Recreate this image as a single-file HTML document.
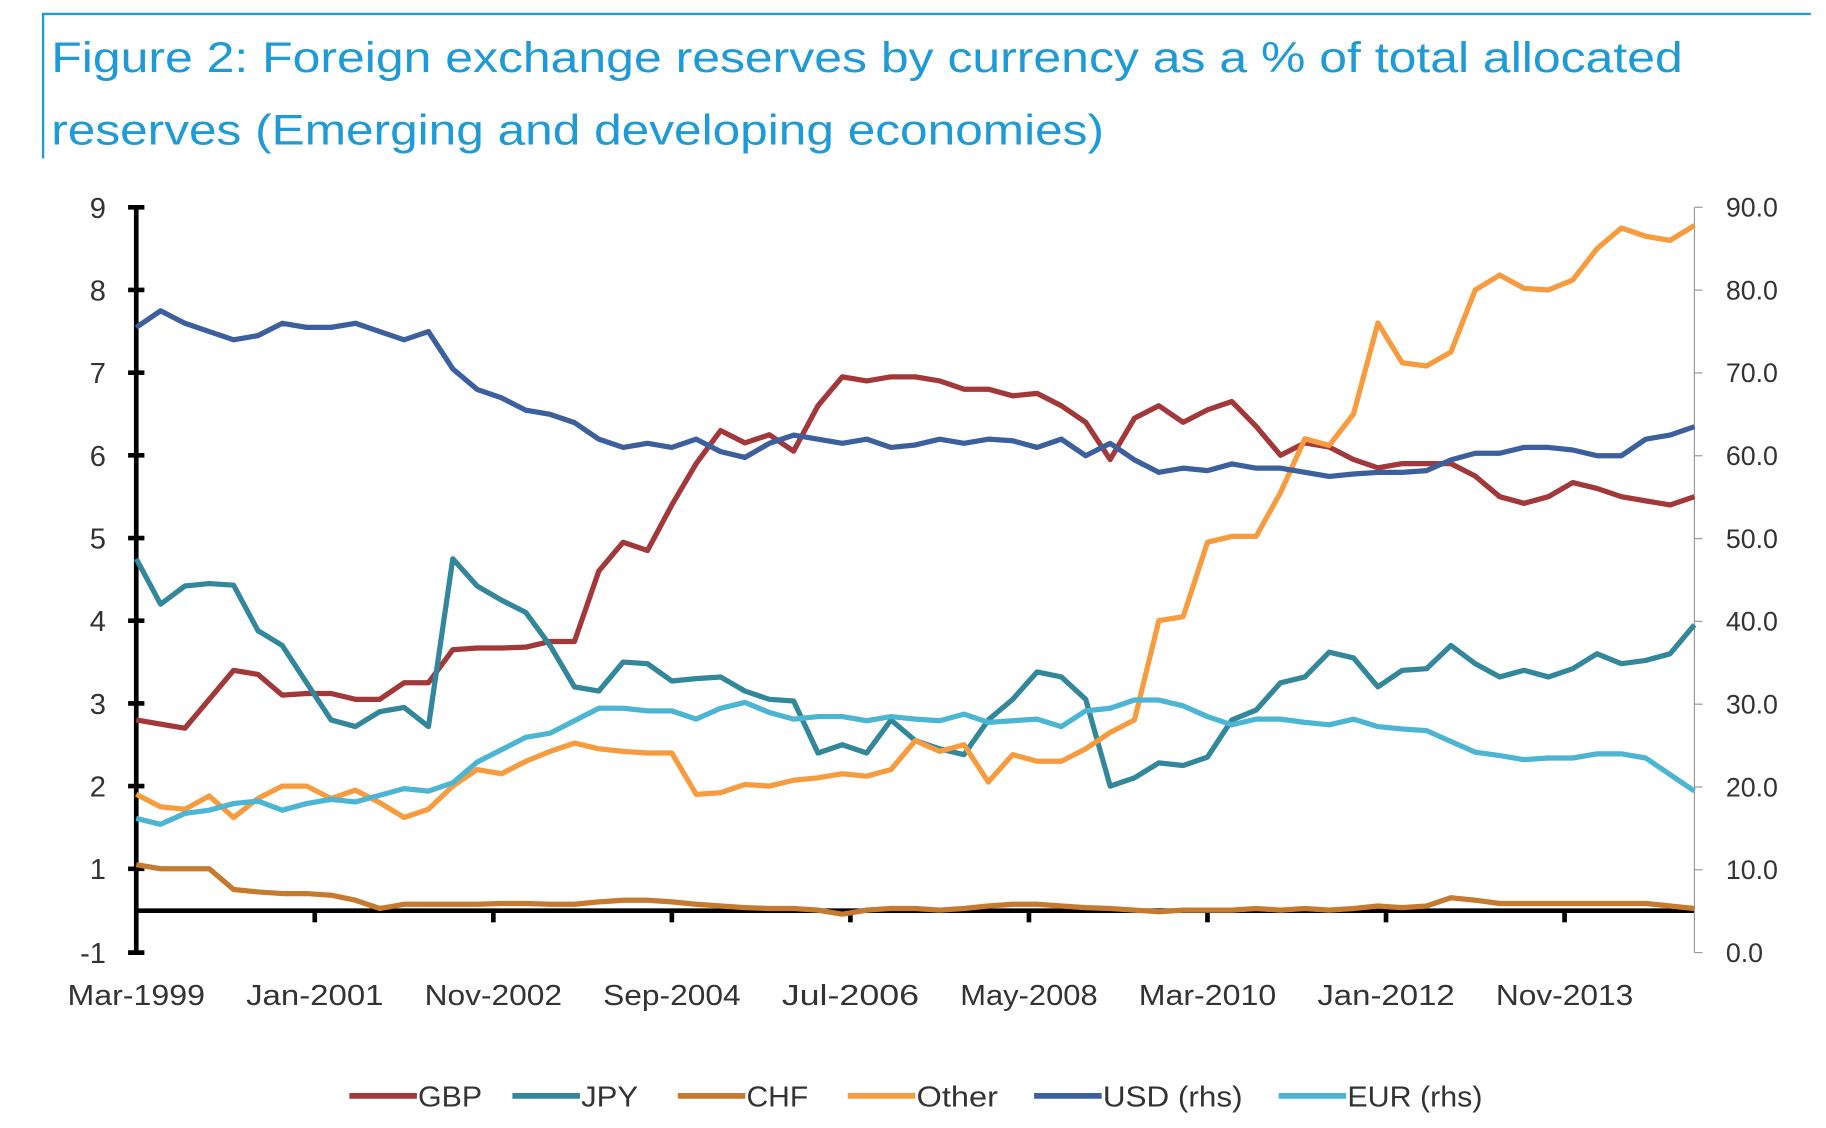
<!DOCTYPE html>
<html><head><meta charset="utf-8"><style>
html,body{margin:0;padding:0;background:#fff;}
svg{display:block;font-family:"Liberation Sans",sans-serif;}
</style></head><body>
<svg id="chart" width="1826" height="1128" viewBox="0 0 1568 968.6" preserveAspectRatio="none" xmlns="http://www.w3.org/2000/svg">
<line x1="36" y1="12" x2="1555" y2="12" stroke="#1e9ad6" stroke-width="2"/>
<line x1="37" y1="12" x2="37" y2="136" stroke="#1e9ad6" stroke-width="2"/>
<text x="44" y="62" font-size="37" fill="#1e9ad6" textLength="1401" lengthAdjust="spacingAndGlyphs">Figure 2: Foreign exchange reserves by currency as a % of total allocated</text>
<text x="44" y="124" font-size="37" fill="#1e9ad6" textLength="904" lengthAdjust="spacingAndGlyphs">reserves (Emerging and developing economies)</text>
<g id="axes"></g>
<g id="series"></g>
<g id="legend"></g>
</svg>
<script>
const NS="http://www.w3.org/2000/svg";
const xLabels=["Mar-1999","Jan-2001","Nov-2002","Sep-2004","Jul-2006","May-2008","Mar-2010","Jan-2012","Nov-2013"];
const leftTicks=[1,2,3,4,5,6,7,8,9];
const rightTicks=["0.0","10.0","20.0","30.0","40.0","50.0","60.0","70.0","80.0","90.0"];
const gbp=[2.8,2.75,2.7,3.05,3.4,3.35,3.1,3.12,3.12,3.05,3.05,3.25,3.25,3.65,3.67,3.67,3.68,3.75,3.75,4.6,4.95,4.85,5.4,5.9,6.3,6.15,6.25,6.05,6.6,6.95,6.9,6.95,6.95,6.9,6.8,6.8,6.72,6.75,6.6,6.4,5.95,6.45,6.6,6.4,6.55,6.65,6.35,6.0,6.15,6.1,5.95,5.85,5.9,5.9,5.9,5.75,5.5,5.42,5.5,5.67,5.6,5.5,5.45,5.4,5.5];
const jpy=[4.75,4.2,4.42,4.45,4.43,3.88,3.7,3.25,2.8,2.72,2.9,2.95,2.72,4.75,4.42,4.25,4.1,3.7,3.2,3.15,3.5,3.48,3.27,3.3,3.32,3.15,3.05,3.03,2.4,2.5,2.4,2.8,2.55,2.45,2.38,2.8,3.05,3.38,3.32,3.05,2.0,2.1,2.28,2.25,2.35,2.8,2.92,3.25,3.32,3.62,3.55,3.2,3.4,3.42,3.7,3.48,3.32,3.4,3.32,3.42,3.6,3.48,3.52,3.6,3.95];
const chf=[1.05,1.0,1.0,1.0,0.75,0.72,0.7,0.7,0.68,0.62,0.52,0.57,0.57,0.57,0.57,0.58,0.58,0.57,0.57,0.6,0.62,0.62,0.6,0.57,0.55,0.53,0.52,0.52,0.5,0.45,0.5,0.52,0.52,0.5,0.52,0.55,0.57,0.57,0.55,0.53,0.52,0.5,0.48,0.5,0.5,0.5,0.52,0.5,0.52,0.5,0.52,0.55,0.53,0.55,0.65,0.62,0.58,0.58,0.58,0.58,0.58,0.58,0.58,0.55,0.52];
const other=[1.9,1.75,1.72,1.88,1.62,1.85,2.0,2.0,1.85,1.95,1.8,1.62,1.72,2.0,2.2,2.15,2.3,2.42,2.52,2.45,2.42,2.4,2.4,1.9,1.92,2.02,2.0,2.07,2.1,2.15,2.12,2.2,2.55,2.42,2.5,2.05,2.38,2.3,2.3,2.45,2.65,2.8,4.0,4.05,4.95,5.02,5.02,5.55,6.2,6.12,6.5,7.6,7.12,7.08,7.25,8.0,8.18,8.02,8.0,8.12,8.5,8.75,8.65,8.6,8.78];
const usd=[75.5,77.5,76,75,74,74.5,76,75.5,75.5,76,75,74,75,70.5,68,67,65.5,65,64,62,61,61.5,61,62,60.5,59.8,61.5,62.5,62,61.5,62,61,61.3,62,61.5,62,61.8,61,62,60,61.5,59.5,58,58.5,58.2,59,58.5,58.5,58,57.5,57.8,58,58,58.2,59.5,60.3,60.3,61,61,60.7,60,60,62,62.5,63.5];
const eur=[16.2,15.5,16.8,17.2,18,18.3,17.2,18,18.5,18.2,19,19.8,19.5,20.5,23,24.5,26,26.5,28,29.5,29.5,29.2,29.2,28.2,29.5,30.2,29,28.2,28.5,28.5,28,28.5,28.2,28,28.8,27.8,28,28.2,27.3,29.2,29.5,30.5,30.5,29.8,28.5,27.5,28.2,28.2,27.8,27.5,28.2,27.3,27,26.8,25.5,24.2,23.8,23.3,23.5,23.5,24,24,23.5,21.5,19.5];

const X0=117,X1=1455,YT=178,YB=818;
const N=gbp.length;
const xs=i=>X0+(X1-X0)*i/(N-1);
const yL=v=>817-v*71;
const yR=v=>YB-v/90*(YB-YT);
const XAXIS_Y=782;
function mk(tag,attrs,parent){const e=document.createElementNS(NS,tag);for(const k in attrs)e.setAttribute(k,attrs[k]);parent.appendChild(e);return e;}
const axes=document.getElementById('axes');
let la=mk('line',{x1:X0,y1:YT,x2:X0,y2:YB,stroke:'#000','stroke-width':4},axes);


function leftTick(y,label){
  const t=mk('line',{x1:X0-7,x2:X0+7,y1:y,y2:y,stroke:'#000','stroke-width':4},axes);
  
  
  const l=mk('text',{x:91,y:y+9,'font-size':25,fill:'#333','text-anchor':'end'},axes);
  l.textContent=label;
  
  
}
leftTicks.forEach(v=>leftTick(yL(v),v));
leftTick(YB,"-1");
let xa=mk('line',{x1:X0,y1:XAXIS_Y,x2:X1,y2:XAXIS_Y,stroke:'#000','stroke-width':4},axes);


xLabels.forEach((s,k)=>{
  const i=k*22/3;
  const x=xs(i);
  if(k>0){const t=mk('line',{x1:x,x2:x,y1:XAXIS_Y,y2:XAXIS_Y+10,stroke:'#000','stroke-width':4},axes);
  
  }
  const l=mk('text',{x:x,y:863,'font-size':25,fill:'#333','text-anchor':'middle',textLength:118,lengthAdjust:'spacingAndGlyphs'},axes);
  l.textContent=s;
  
  
});
let ra=mk('line',{x1:X1,y1:YT,x2:X1,y2:YB,stroke:'#999','stroke-width':1},axes);


rightTicks.forEach(s=>{
  const v=parseFloat(s);
  const t=mk('line',{x1:X1,x2:X1+7,y1:yR(v),y2:yR(v),stroke:'#999','stroke-width':1},axes);
  
  
  const l=mk('text',{x:1482,y:yR(v)+8,'font-size':23,fill:'#333'},axes);
  l.textContent=s;
  
  
});
const series=[
 {name:'GBP',data:gbp,color:'#a3383b',y:yL,id:'gbp'},
 {name:'JPY',data:jpy,color:'#33879a',y:yL,id:'jpy'},
 {name:'CHF',data:chf,color:'#c67a2f',y:yL,id:'chf'},
 {name:'Other',data:other,color:'#f79b3f',y:yL,id:'other'},
 {name:'USD (rhs)',data:usd,color:'#3c5f9e',y:yR,id:'usd'},
 {name:'EUR (rhs)',data:eur,color:'#4db5d4',y:yR,id:'eur'}];
const sg=document.getElementById('series');
series.forEach(s=>{
  const d=s.data.map((v,i)=>(i?'L':'M')+xs(i).toFixed(1)+','+s.y(v).toFixed(1)).join(' ');
  const p=mk('path',{d:d,fill:'none',stroke:s.color,'stroke-width':4.5,'stroke-linejoin':'round'},sg);
  
  
});
const lg=document.getElementById('legend');
const legX=[300,440,582,728,888,1098];
const legW=[55,49,53,70,120,116];
series.forEach((s,k)=>{
  const g=mk('g',{},lg);
  
  
  mk('line',{x1:legX[k],x2:legX[k]+58,y1:941,y2:941,stroke:s.color,'stroke-width':5},g);
  const t=mk('text',{x:legX[k]+59,y:950,'font-size':25,fill:'#333',textLength:legW[k],lengthAdjust:'spacingAndGlyphs'},g);
  t.textContent=s.name;
});
</script>
</body></html>
